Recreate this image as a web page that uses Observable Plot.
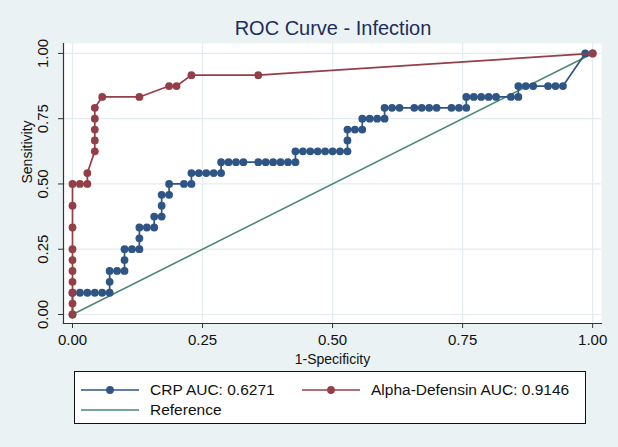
<!DOCTYPE html>
<html>
<head>
<meta charset="utf-8">
<script src="https://cdn.jsdelivr.net/npm/d3@7"></script>
<script src="https://cdn.jsdelivr.net/npm/@observablehq/plot@0.6"></script>
<style>
  html, body { margin: 0; padding: 0; background: #eaf2f3; }
  #wrap { position: relative; width: 618px; height: 447px; background: #eaf2f3; overflow: hidden;
          font-family: "Liberation Sans", Arial, Helvetica, sans-serif; }
  #title { position: absolute; top: 18px; left: 333px; transform: translateX(-50%); white-space: nowrap;
           font-size: 20px; line-height: 20px; color: #1e2d5c; }
  #chart { position: absolute; left: 0; top: 0; }
  #legend { position: absolute; left: 74px; top: 371px; width: 512px; height: 53px; background: #fff;
            border: 1px solid #111; box-sizing: border-box; font-size: 15.5px; color: #111; }
  .item { position: absolute; display: flex; align-items: center; white-space: nowrap; height: 20px; }
  .item svg { margin-right: 11px; }
</style>
</head>
<body>
<div id="wrap">
  <div id="title"></div>
  <div id="chart"></div>
  <div id="legend"></div>
</div>
<script>
// ---- data ----
const titleText = "ROC Curve - Infection";
const xLabel = "1-Specificity";
const yLabel = "Sensitivity";
const tickValues = [0, 0.25, 0.5, 0.75, 1];

const crpName = "CRP AUC: 0.6271";
const crpX = [0, 0, 0.0143, 0.0286, 0.0429, 0.0571, 0.0714, 0.0714, 0.0714, 0.0857, 0.1, 0.1, 0.1, 0.1143, 0.1286,
  0.1286, 0.1286, 0.1429, 0.1571, 0.1571, 0.1714, 0.1714, 0.1714, 0.1857, 0.1857, 0.2143, 0.2286, 0.2286, 0.2429,
  0.2571, 0.2714, 0.2857, 0.2857, 0.3, 0.3143, 0.3286, 0.3571, 0.3714, 0.3857, 0.4, 0.4143, 0.4286, 0.4286, 0.4429,
  0.4571, 0.4714, 0.4857, 0.5, 0.5143, 0.5286, 0.5286, 0.5286, 0.5429, 0.5571, 0.5571, 0.5714, 0.5857, 0.6, 0.6,
  0.6143, 0.6286, 0.6571, 0.6714, 0.6857, 0.7, 0.7286, 0.7429, 0.7571, 0.7571, 0.7714, 0.7857, 0.8, 0.8143, 0.8429,
  0.8571, 0.8571, 0.8714, 0.8857, 0.9143, 0.9286, 0.9429, 0.9857, 1];
const crpY = [0, 0.0833, 0.0833, 0.0833, 0.0833, 0.0833, 0.0833, 0.125, 0.1667, 0.1667, 0.1667, 0.2083, 0.25, 0.25, 0.25,
  0.2917, 0.3333, 0.3333, 0.3333, 0.375, 0.375, 0.4167, 0.4583, 0.4583, 0.5, 0.5, 0.5, 0.5417, 0.5417,
  0.5417, 0.5417, 0.5417, 0.5833, 0.5833, 0.5833, 0.5833, 0.5833, 0.5833, 0.5833, 0.5833, 0.5833, 0.5833, 0.625, 0.625,
  0.625, 0.625, 0.625, 0.625, 0.625, 0.625, 0.6667, 0.7083, 0.7083, 0.7083, 0.75, 0.75, 0.75, 0.75, 0.7917,
  0.7917, 0.7917, 0.7917, 0.7917, 0.7917, 0.7917, 0.7917, 0.7917, 0.7917, 0.8333, 0.8333, 0.8333, 0.8333, 0.8333, 0.8333,
  0.8333, 0.875, 0.875, 0.875, 0.875, 0.875, 0.875, 1, 1];

const adName = "Alpha-Defensin AUC: 0.9146";
const adX = [0, 0, 0, 0, 0, 0, 0, 0, 0, 0, 0.0143, 0.0286, 0.0286, 0.0429, 0.0429, 0.0429, 0.0429, 0.0429, 0.0571,
  0.1286, 0.1857, 0.2, 0.2286, 0.3571, 1];
const adY = [0, 0.0417, 0.0833, 0.125, 0.1667, 0.2083, 0.25, 0.3333, 0.4167, 0.5, 0.5, 0.5, 0.5417, 0.625, 0.6667,
  0.7083, 0.75, 0.7917, 0.8333, 0.8333, 0.875, 0.875, 0.9167, 0.9167, 1];

const refName = "Reference";
const refX = [0, 1];
const refY = [0, 1];

const colors = { crp: "#2f5584", ad: "#943f48", ref: "#4a8a70" };

// ---- build ----
const crp = crpX.map((x, i) => ({ x, y: crpY[i] }));
const ad = adX.map((x, i) => ({ x, y: adY[i] }));
const ref = refX.map((x, i) => ({ x, y: refY[i] }));
const fmt = d3.format(".2f");
const gridColor = "#e3ecee";
const axisColor = "#333";

const plot = Plot.plot({
  width: 618,
  height: 370,
  marginTop: 43,
  marginLeft: 63,
  marginRight: 17,
  marginBottom: 47,
  style: { background: "transparent", fontFamily: "'Liberation Sans', Arial, Helvetica, sans-serif", fontSize: "15px", color: "#111" },
  x: { domain: [-0.0173, 1.017], ticks: tickValues, tickFormat: fmt },
  y: { domain: [-0.0345, 1.038], ticks: tickValues, tickFormat: fmt },
  marks: [
    Plot.frame({ fill: "white", stroke: null }),
    Plot.gridX(tickValues, { stroke: gridColor, strokeOpacity: 1, strokeWidth: 1.2 }),
    Plot.gridY(tickValues, { stroke: gridColor, strokeOpacity: 1, strokeWidth: 1.2 }),
    Plot.frame({ anchor: "left", stroke: axisColor, strokeWidth: 1.2 }),
    Plot.frame({ anchor: "bottom", stroke: axisColor, strokeWidth: 1.2 }),
    Plot.axisX(tickValues, { tickSize: 5, tickPadding: 6, tickFormat: fmt, label: null, stroke: axisColor, fill: "#111" }),
    Plot.axisY(tickValues, { tickSize: 5, tickFormat: () => "", label: null, stroke: axisColor }),
    Plot.text(tickValues, { y: d => d, text: d => fmt(d), frameAnchor: "left", rotate: -90, dx: -20,
      textAnchor: "middle", lineAnchor: "middle", fill: "#111" }),
    Plot.text([xLabel], { frameAnchor: "bottom", dy: 36, lineAnchor: "middle", fill: "#111", fontSize: 14 }),
    Plot.text([yLabel], { frameAnchor: "left", dx: -36, rotate: -90, lineAnchor: "middle", fill: "#111", fontSize: 14 }),
    Plot.line(ref, { x: "x", y: "y", stroke: colors.ref, strokeWidth: 1.6 }),
    Plot.line(crp, { x: "x", y: "y", stroke: colors.crp, strokeWidth: 1.7 }),
    Plot.dot(crp, { x: "x", y: "y", r: 3.9, fill: colors.crp, stroke: null }),
    Plot.line(ad, { x: "x", y: "y", stroke: colors.ad, strokeWidth: 1.7 }),
    Plot.dot(ad, { x: "x", y: "y", r: 3.9, fill: colors.ad, stroke: null })
  ]
});
document.getElementById("chart").append(plot);
document.getElementById("title").textContent = titleText;

// ---- legend ----
function symbol(color, withDot) {
  return `<svg width="58" height="20"><line x1="0" y1="10" x2="58" y2="10" stroke="${color}" stroke-width="1.7"/>` +
    (withDot ? `<circle cx="29" cy="10" r="3.9" fill="${color}"/>` : "") + `</svg>`;
}
const legendItems = [
  { name: crpName, color: colors.crp, dot: true, left: 6, top: 8 },
  { name: adName, color: colors.ad, dot: true, left: 227, top: 8 },
  { name: refName, color: colors.ref, dot: false, left: 6, top: 28 }
];
const lg = document.getElementById("legend");
legendItems.forEach(it => {
  const d = document.createElement("div");
  d.className = "item";
  d.style.left = it.left + "px";
  d.style.top = it.top + "px";
  d.innerHTML = symbol(it.color, it.dot) + `<span>${it.name}</span>`;
  lg.append(d);
});
</script>
</body>
</html>
